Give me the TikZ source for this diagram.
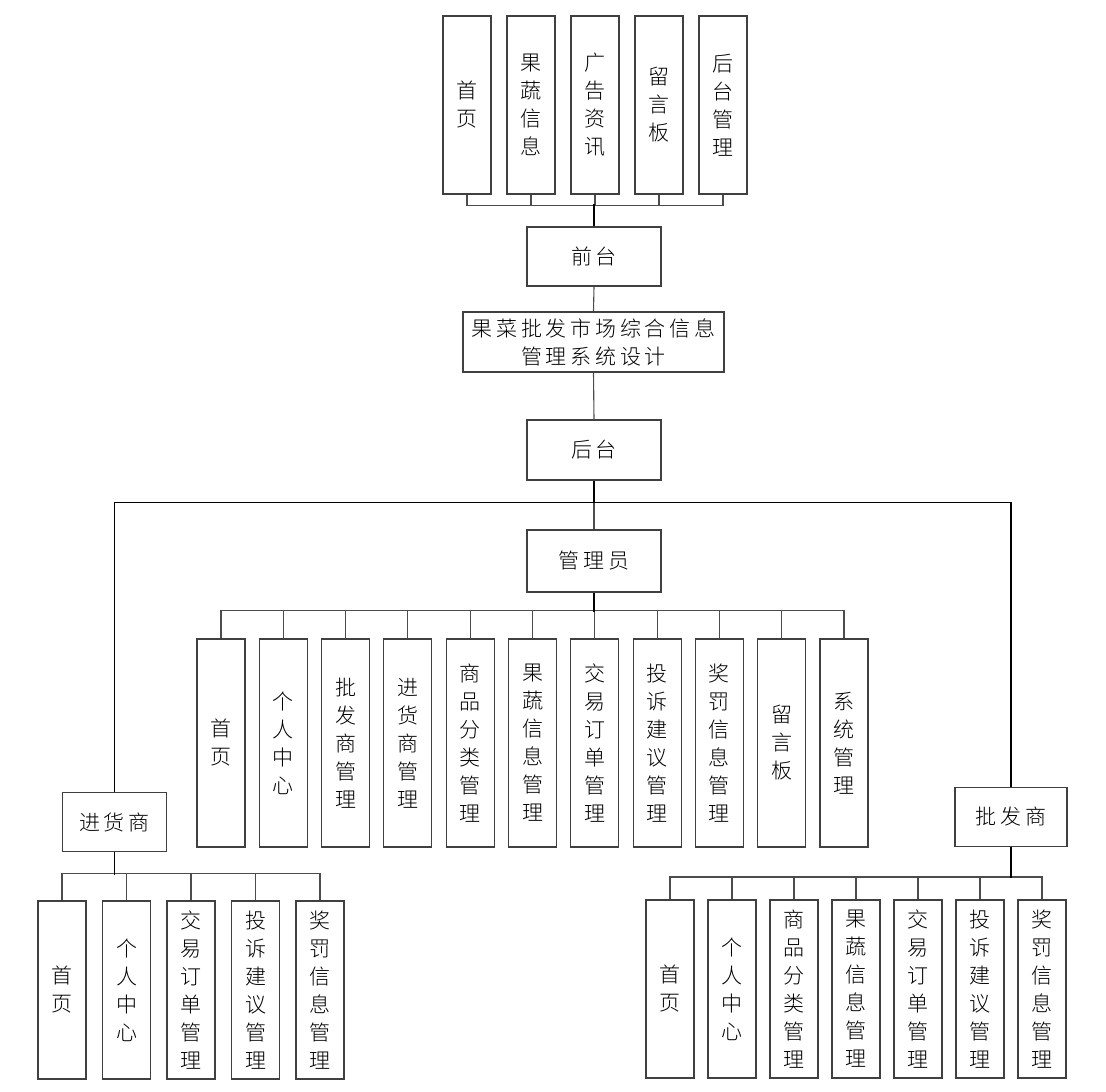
\documentclass[tikz,border=0pt]{standalone}
\usepackage{fontspec}
\setmainfont[UprightFont=* Light]{Noto Sans CJK SC}
\newfontfamily\widecn[UprightFont=* Light,LetterSpace=18]{Noto Sans CJK SC}
\begin{document}
\begin{tikzpicture}[x=1pt,y=-1pt,
	box/.style={draw=black!75,line width=1.1pt,inner sep=0pt,align=center,font=\fontsize{21}{28}\selectfont},
	flatbox/.style={box,font=\fontsize{21}{28}\selectfont\widecn},
	tallbox/.style={box,minimum width=48pt,minimum height=178pt},
	longbox/.style={box,minimum width=48pt,minimum height=208pt},
	link/.style={draw=black!70,line width=1.1pt},
	trunk/.style={draw=black,line width=1.4pt}]
	\useasboundingbox (0,0) rectangle (1106,1092);
	% front end
	\node[tallbox] (T1) at (467,105) {首\\页};
	\node[tallbox] (T2) at (531,105) {果\\蔬\\信\\息};
	\node[tallbox] (T3) at (595,105) {广\\告\\资\\讯};
	\node[tallbox] (T4) at (659,105) {留\\言\\板};
	\node[tallbox] (T5) at (723,105) {后\\台\\管\\理};
	\node[flatbox,minimum width=134pt,minimum height=59pt] (QT) at (594,256.5) {前台};
	\node[flatbox,minimum width=261pt,minimum height=60pt] (SYS) at (593.5,342) {果菜批发市场综合信息\\管理系统设计};
	\node[flatbox,minimum width=134pt,minimum height=60pt] (HT) at (594,450) {后台};
	\node[flatbox,minimum width=134pt,minimum height=62pt] (GLY) at (594,561) {管理员};
	\node[flatbox,minimum width=104pt,minimum height=59pt] (JHS) at (114.5,822) {进货商};
	\node[flatbox,minimum width=112pt,minimum height=59pt] (PFS) at (1011,817) {批发商};
	% admin
	\node[longbox] (A1)  at (221,743) {首\\页};
	\node[longbox] (A2)  at (283.3,743) {个\\人\\中\\心};
	\node[longbox] (A3)  at (345.6,743) {批\\发\\商\\管\\理};
	\node[longbox] (A4)  at (407.9,743) {进\\货\\商\\管\\理};
	\node[longbox] (A5)  at (470.2,743) {商\\品\\分\\类\\管\\理};
	\node[longbox] (A6)  at (532.5,743) {果\\蔬\\信\\息\\管\\理};
	\node[longbox] (A7)  at (594.8,743) {交\\易\\订\\单\\管\\理};
	\node[longbox] (A8)  at (657.1,743) {投\\诉\\建\\议\\管\\理};
	\node[longbox] (A9)  at (719.4,743) {奖\\罚\\信\\息\\管\\理};
	\node[longbox] (A10) at (781.7,743) {留\\言\\板};
	\node[longbox] (A11) at (844,743) {系\\统\\管\\理};
	% buyer
	\node[tallbox] (J1) at (62,990) {首\\页};
	\node[tallbox] (J2) at (126.5,990) {个\\人\\中\\心};
	\node[tallbox] (J3) at (191,990) {交\\易\\订\\单\\管\\理};
	\node[tallbox] (J4) at (255.5,990) {投\\诉\\建\\议\\管\\理};
	\node[tallbox] (J5) at (320,990) {奖\\罚\\信\\息\\管\\理};
	% wholesaler
	\node[tallbox] (P1) at (670,989) {首\\页};
	\node[tallbox] (P2) at (732,989) {个\\人\\中\\心};
	\node[tallbox] (P3) at (794,989) {商\\品\\分\\类\\管\\理};
	\node[tallbox] (P4) at (856,989) {果\\蔬\\信\\息\\管\\理};
	\node[tallbox] (P5) at (918,989) {交\\易\\订\\单\\管\\理};
	\node[tallbox] (P6) at (980,989) {投\\诉\\建\\议\\管\\理};
	\node[tallbox] (P7) at (1042,989) {奖\\罚\\信\\息\\管\\理};
	% connectors
	\foreach \i in {1,...,5}
		\draw[link] (T\i.south) -- ++(0,11) -| (QT.north);
	\draw[trunk] (QT.north) -- ++(0,-22);
	\draw[link] (QT.south) -- (SYS.north);
	\draw[link] (SYS.south) -- (HT.north);
	\draw[link] (HT.south) -- (GLY.north);
	\draw[trunk] (HT.south) -- ++(0,22) -| (JHS.north);
	\draw[trunk] (HT.south) -- ++(0,22) -| (PFS.north);
	\foreach \i in {1,...,11}
		\draw[link] (A\i.north) -- ++(0,-28) -| (GLY.south);
	\draw[trunk] (GLY.south) -- ++(0,19);
	\foreach \i in {1,...,5}
		\draw[link] (J\i.north) -- ++(0,-27) -| (JHS.south);
	\draw[trunk] (JHS.south) -- ++(0,22.5);
	\foreach \i in {1,...,7}
		\draw[link] (P\i.north) -- ++(0,-22.5) -| (PFS.south);
	\draw[trunk] (PFS.south) -- ++(0,31);
\end{tikzpicture}
\end{document}
